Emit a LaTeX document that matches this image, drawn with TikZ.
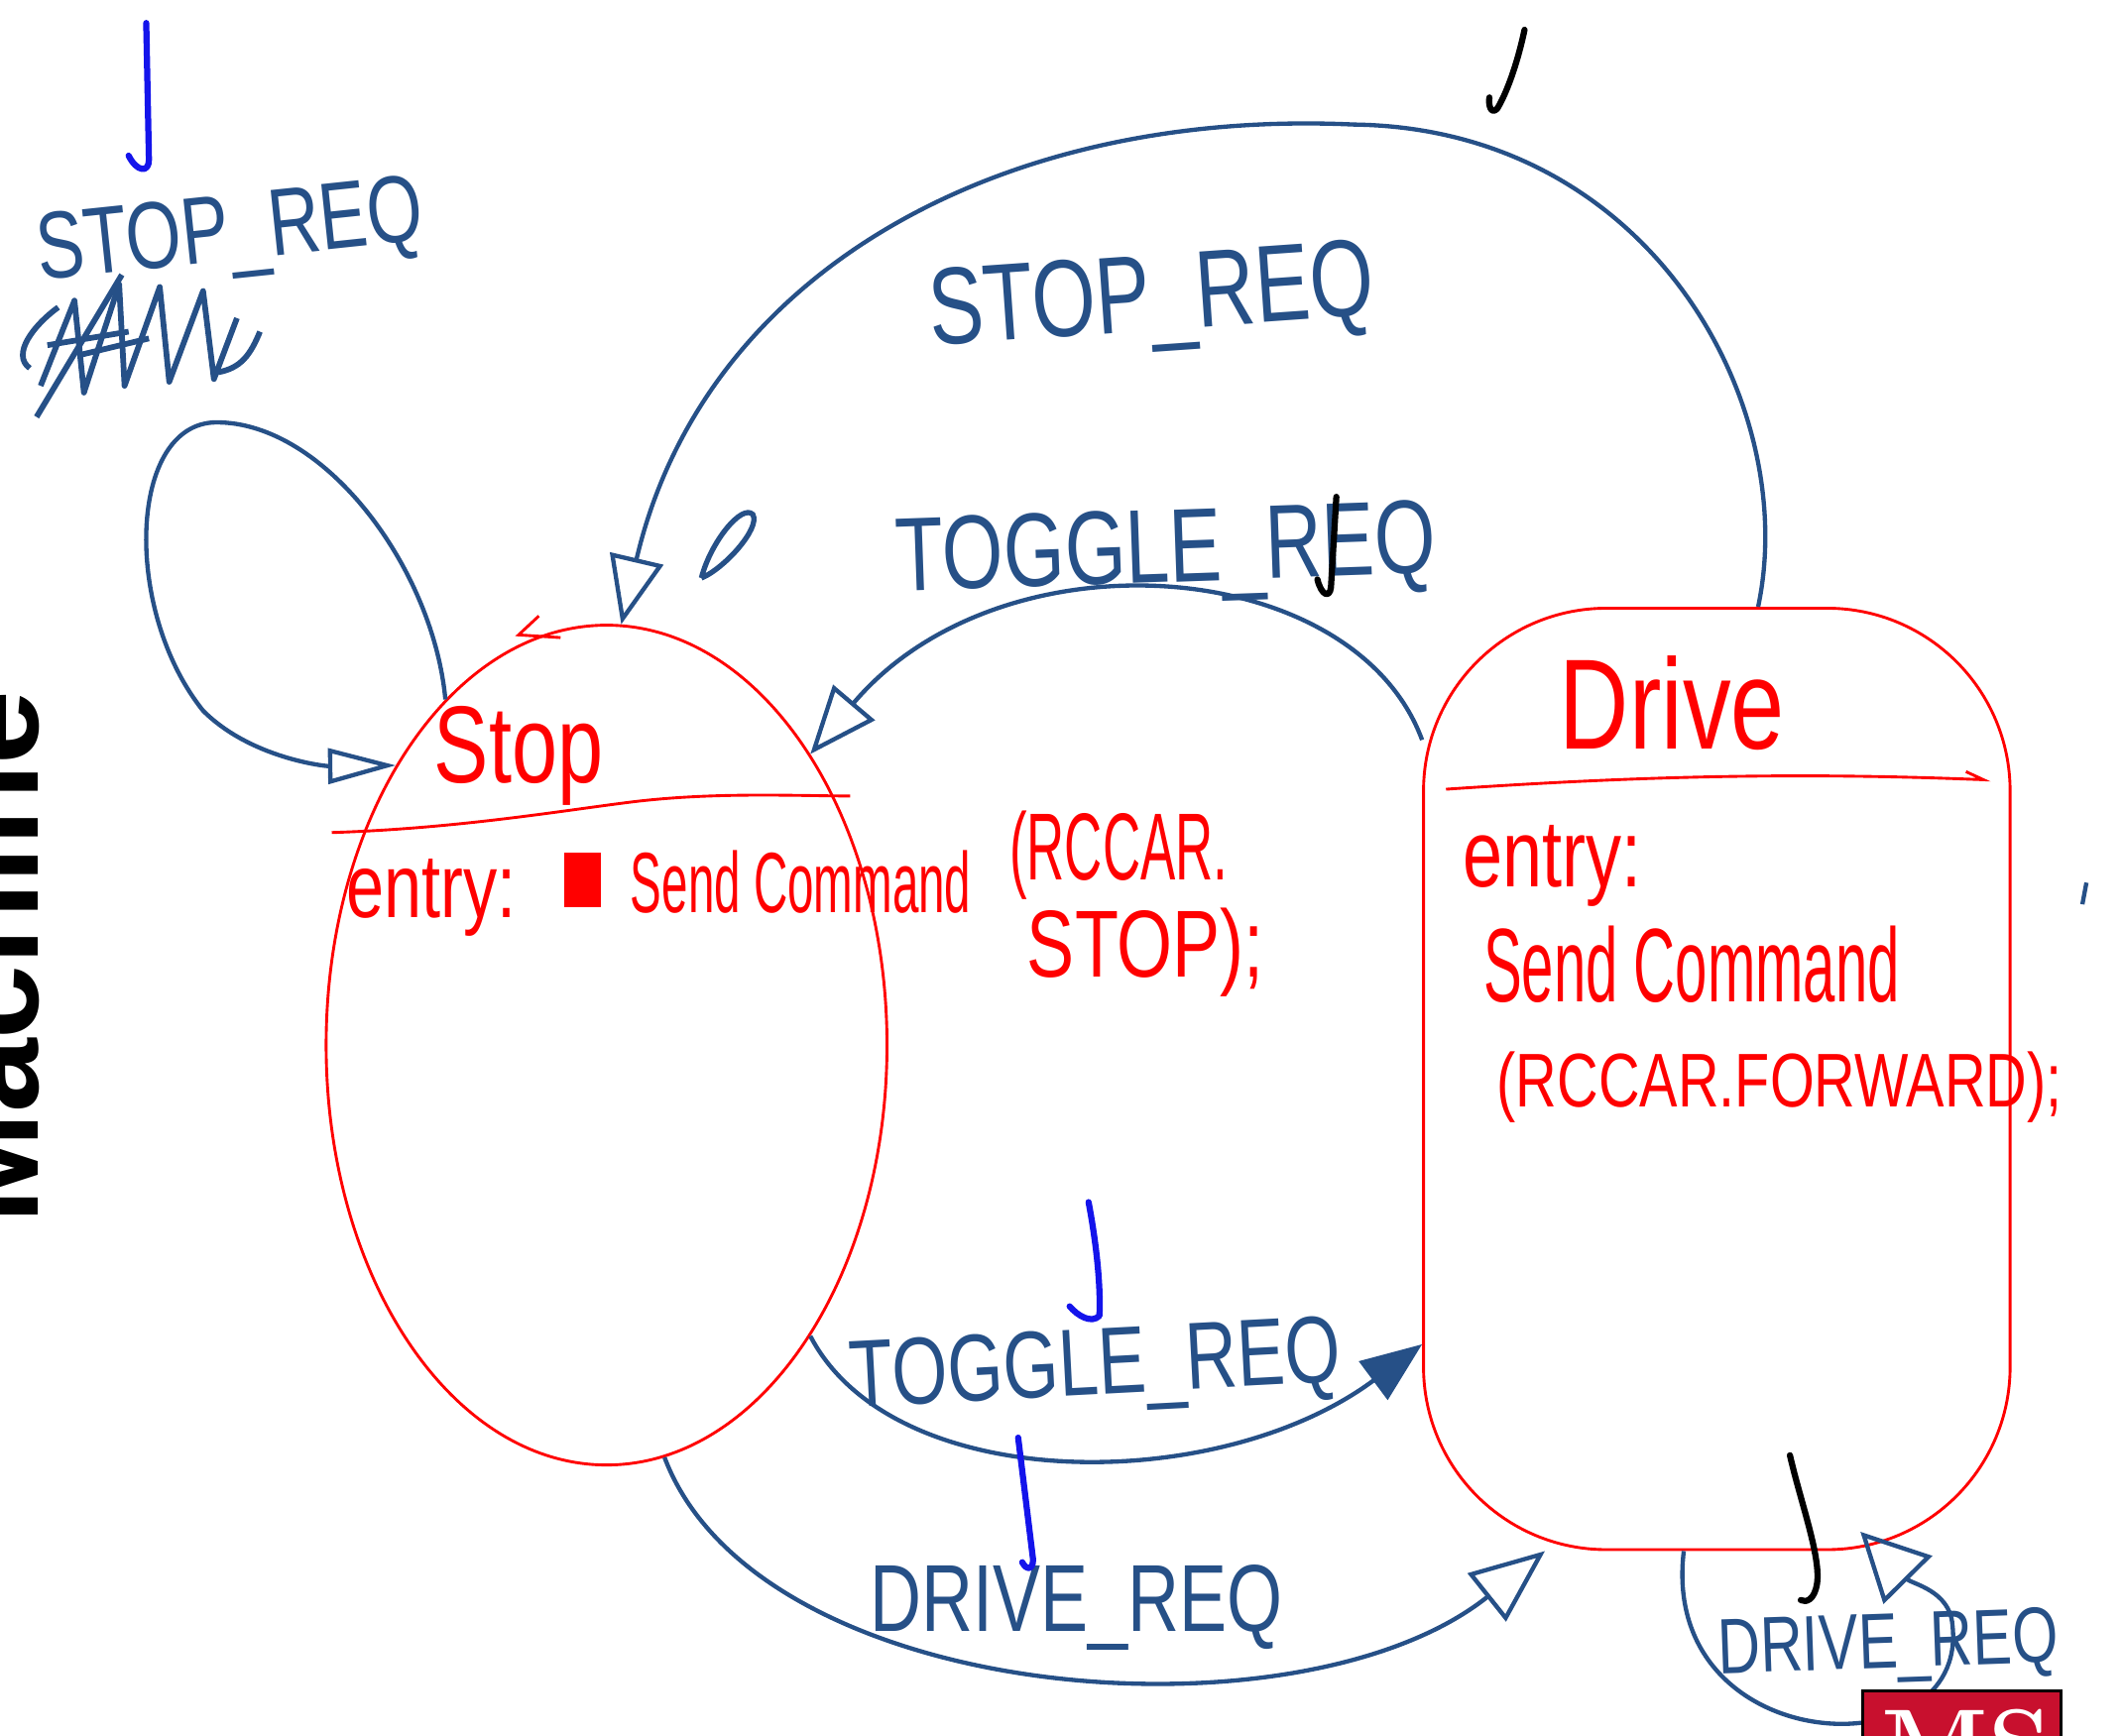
\documentclass[tikz,border=0pt]{standalone}
\usepackage{fontspec}
\usepackage{tikz}
\usetikzlibrary{arrows.meta,shapes.geometric}
\newfontfamily\hand[FakeStretch=0.75]{Liberation Sans}
\newfontfamily\handn[FakeStretch=0.55]{Liberation Sans}
\newfontfamily\titlefont{Liberation Sans}
\newcommand{\handat}[1]{\hand\fontsize{#1}{#1}\selectfont}
\newcommand{\handnat}[1]{\handn\fontsize{#1}{#1}\selectfont}
\definecolor{penblue}{RGB}{38,80,135}
\definecolor{tickblue}{RGB}{20,20,235}
\definecolor{msred}{RGB}{200,16,46}

\begin{document}
\begin{tikzpicture}[
    x=0.01cm, y=-0.01cm,
    statebox/.style={draw=red, line width=0.6pt, inner sep=0pt},
    transition/.style={draw=penblue, line width=0.9pt},
    evlabel/.style={text=penblue, inner sep=0pt, anchor=base},
    entrytext/.style={text=red, inner sep=0pt, anchor=base west},
    checkmark/.style={line width=1.3pt, line cap=round, line join=round}
]
\useasboundingbox (0,0) rectangle (1568,1282);
\clip (0,0) rectangle (1568,1282);

\node[statebox, ellipse, minimum width=4.14cm, minimum height=6.2cm] (stop) at (448,772) {};
\node[statebox, rounded corners=1.35cm, minimum width=4.33cm, minimum height=6.95cm] (drive) at (1268,797) {};

\draw[red, line width=0.6pt] (245,615) .. controls (340,612) and (420,598) .. (470,592) .. controls (530,585) and (590,588) .. (628,588);
\draw[red, line width=0.6pt] (1068,583) .. controls (1200,574) and (1320,570) .. (1465,576) -- (1452,570);
\draw[red, line width=0.6pt] (398,455) -- (383,469) -- (414,471);

\node[entrytext, anchor=base, font=\handat{23}] (stopname) at (383,578) {Stop};
\node[entrytext, anchor=base, font=\handat{27}] (drivename) at (1235,553) {Drive};
\node[entrytext, font=\handat{19}] (stopentry) at (255,678) {entry:};
\fill[red] (417,630) rectangle (444,670);
\node[entrytext, font=\handnat{18}] (stopsend) at (465,674) {Send Command};
\node[entrytext, font=\handnat{20}] (stopcar) at (745,650) {(RCCAR.};
\node[entrytext, font=\handat{20}] (stopcmd) at (758,722) {STOP);};
\node[entrytext, font=\handat{20}] (driveentry) at (1080,655) {entry:};
\node[entrytext, font=\handnat{22}] (drivesend) at (1095,740) {Send Command};
\node[entrytext, font=\handat{16}] (drivecar) at (1105,818) {(RCCAR.FORWARD);};

\draw[transition, -{Triangle[open, length=5mm, width=2.6mm]}] (stop.115) .. controls (320,420) and (240,312) .. (160,312) .. controls (95,312) and (90,450) .. (150,525) .. controls (185,560) and (240,566) .. (stop.127);
\draw[transition, -{Triangle[open, length=5mm, width=4mm]}] (drive.85) .. controls (1330,300) and (1220,95) .. (1000,92) .. controls (740,80) and (520,200) .. (stop.88);
\draw[transition, -{Triangle[open, length=5mm, width=4mm]}] (drive.131) .. controls (1000,410) and (740,390) .. (stop.55);
\draw[transition, -{Triangle[length=4.5mm, width=3.5mm]}] (stop.305) .. controls (660,1105) and (900,1105) .. (drive.222);
\draw[transition, -{Triangle[open, length=5.5mm, width=4.5mm]}] (stop.278) .. controls (560,1260) and (960,1290) .. (drive.250);
\draw[transition, shorten >=-0.2cm, -{Triangle[open, length=5mm, width=5mm]}] (drive.266) .. controls (1225,1300) and (1455,1310) .. (1442,1200) .. controls (1440,1175) and (1412,1170) .. (drive.289);

\node[evlabel, rotate=6, font=\handat{20}] (stoploop) at (172,192) {STOP\_REQ};
\node[evlabel, rotate=4, font=\handat{23}] (stopev) at (852,244) {STOP\_REQ};
\node[evlabel, rotate=2, font=\handat{22}] (toggleup) at (862,430) {TOGGLE\_REQ};
\node[evlabel, rotate=3, font=\handat{20}] (toggledown) at (810,1030) {TOGGLE\_REQ};
\node[evlabel, font=\handat{20}] (driveev) at (795,1205) {DRIVE\_REQ};
\node[evlabel, rotate=2, font=\handat{16.5}] (driveloop) at (1395,1232) {DRIVE\_REQ};

\draw[transition, line width=1.2pt, line join=round] (43,227) .. controls (25,240) and (8,262) .. (22,272);
\draw[transition, line width=1.2pt] (192,245) .. controls (185,262) and (178,272) .. (161,275);
\draw[transition, line width=1.2pt, line join=round] (30,285) -- (55,222) -- (62,290) -- (88,210) -- (92,285) -- (118,212) -- (125,282) -- (150,215) -- (158,280) -- (175,235);
\draw[transition, line width=1.2pt] (27,308) -- (90,203) (35,255) -- (95,245) (60,262) -- (110,250);
\draw[transition, line width=1.1pt] (518,427) .. controls (525,400) and (548,372) .. (556,380) .. controls (562,390) and (535,420) .. (518,427);
\draw[transition] (1541,652) -- (1538,668);

\draw[checkmark, tickblue] (108,17) -- (110,118) .. controls (110,128) and (101,127) .. (95,115);
\draw[checkmark, black] (1126,22) .. controls (1120,50) and (1112,70) .. (1106,80) .. controls (1102,85) and (1099,79) .. (1100,72);
\draw[checkmark, black] (987,367) -- (983,434) .. controls (982,442) and (976,440) .. (973,428);
\draw[checkmark, tickblue] (804,888) .. controls (810,920) and (813,950) .. (812,972) .. controls (806,978) and (796,972) .. (790,965);
\draw[checkmark, tickblue] (752,1062) -- (763,1152) .. controls (763,1160) and (758,1160) .. (755,1154);
\draw[checkmark, black] (1322,1075) .. controls (1330,1110) and (1345,1150) .. (1342,1170) .. controls (1340,1182) and (1334,1184) .. (1330,1182);

\node[rotate=90, anchor=base west, inner sep=0pt, font=\titlefont\bfseries\fontsize{28}{28}\selectfont] (title) at (28,905) {Machine};

\node[draw=black, fill=msred, line width=0.6pt, minimum width=1.46cm, minimum height=0.8cm, anchor=north west, inner sep=0pt] (logo) at (1375,1248) {};
\node[anchor=north west, inner sep=0pt, text=white, font=\bfseries\fontsize{21}{21}\selectfont] (logotext) at (1389,1262) {MS};
\end{tikzpicture}
\end{document}
